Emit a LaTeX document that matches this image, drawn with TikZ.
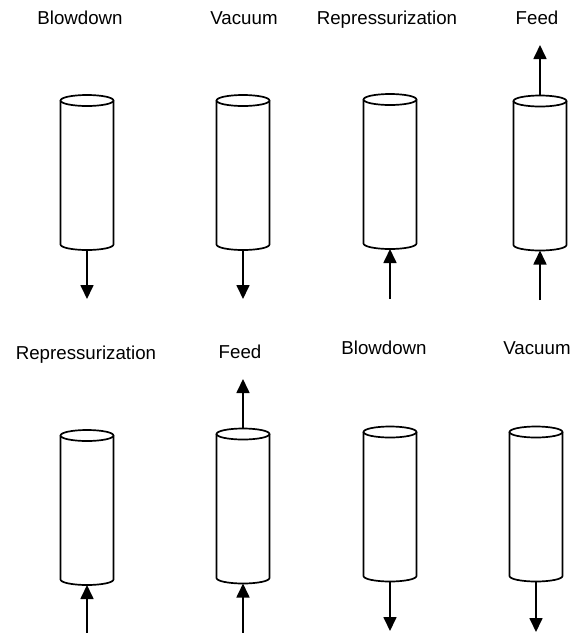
\documentclass[tikz,border=0pt]{standalone}
\usepackage{fontspec}
\setmainfont{Liberation Sans}
\usetikzlibrary{arrows.meta}
\begin{document}
\begin{tikzpicture}[x=1pt,y=-1pt,
  wall/.style={line width=1.7pt, line join=round},
  bed/.pic={
    % open side walls with the lower rim as a front half-ellipse
    \draw[wall] (-26.5,-72) -- (-26.5,72)
      arc[start angle=180, end angle=0, x radius=26.5, y radius=5.5]
      -- (26.5,-72);
    % upper rim, fully visible
    \draw[wall] (0,-72) ellipse[x radius=26.5, y radius=5.5];
    \coordinate (-top) at (0,-77.5);
    \coordinate (-bottom) at (0,77.5);
  },
  flow/.style={-{Triangle[length=14pt,width=13pt]}, line width=1.7pt},
  lbl/.style={anchor=base, font=\fontsize{18.7}{22}\selectfont, inner sep=0pt}]
\useasboundingbox (0,0) rectangle (571,633);

% upper row of beds
\node[lbl] (lt1) at (80,24) {Blowdown};
\node[lbl] (lt2) at (244,24) {Vacuum};
\node[lbl] (lt3) at (387,24) {Repressurization};
\node[lbl] (lt4) at (537,24) {Feed};

\pic (t1) at (87,172.5) {bed};
\pic (t2) at (243,172.5) {bed};
\pic (t3) at (390,171.5) {bed};
\pic (t4) at (540,173) {bed};

\coordinate (t1o) at (87,299);
\coordinate (t2o) at (243,299);
\coordinate (t3i) at (390,299);
\coordinate (t4i) at (540,300);
\coordinate (t4f) at (540,45);

\draw[flow] (t1-bottom) -- (t1o);
\draw[flow] (t2-bottom) -- (t2o);
\draw[flow] (t3i) -- (t3-bottom);
\draw[flow] (t4i) -- (t4-bottom);
\draw[flow] (t4-top) -- (t4f);

% lower row of beds
\node[lbl] (lb1) at (86,359) {Repressurization};
\node[lbl] (lb2) at (240,358) {Feed};
\node[lbl] (lb3) at (384,354) {Blowdown};
\node[lbl] (lb4) at (537,354) {Vacuum};

\pic (b1) at (87,507.5) {bed};
\pic (b2) at (243,506) {bed};
\pic (b3) at (390,504) {bed};
\pic (b4) at (536,504) {bed};

\coordinate (b1i) at (87,633);
\coordinate (b2i) at (243,633);
\coordinate (b2f) at (243,379);
\coordinate (b3o) at (390,631);
\coordinate (b4o) at (536,632);

\draw[flow] (b1i) -- (b1-bottom);
\draw[flow] (b2i) -- (b2-bottom);
\draw[flow] (b2-top) -- (b2f);
\draw[flow] (b3-bottom) -- (b3o);
\draw[flow] (b4-bottom) -- (b4o);
\end{tikzpicture}
\end{document}
